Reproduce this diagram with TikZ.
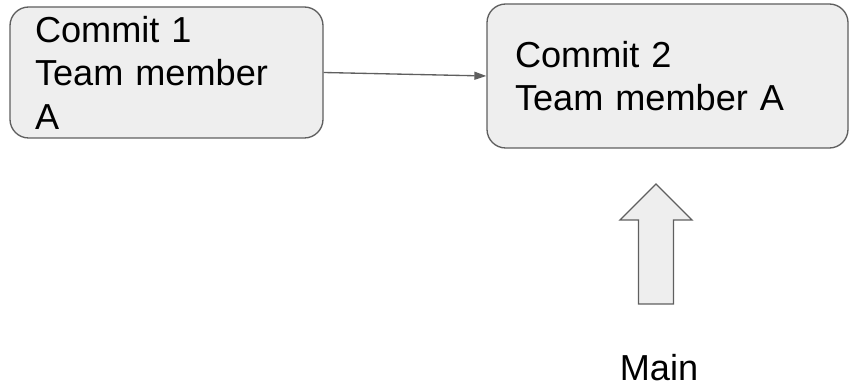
\documentclass[tikz,border=0pt]{standalone}
\usepackage{fontspec}
\setmainfont{Liberation Sans}
\usetikzlibrary{arrows.meta}
\definecolor{boxfill}{HTML}{EEEEEE}
\definecolor{boxline}{HTML}{5F5F5F}

\begin{document}
\begin{tikzpicture}[x=0.75pt,y=-0.75pt,
    commit/.style={draw=boxline,fill=boxfill,line width=1pt,rounded corners=14pt,
        align=left,inner xsep=0pt,inner ysep=0pt,
        font=\fontsize{27.1}{32.6}\selectfont},
    link/.style={draw=boxline,line width=1pt,-{Triangle[length=9pt,width=6pt]}}]
    \useasboundingbox (0,0) rectangle (849,391);
    \node[commit,minimum width=234.75pt,minimum height=98.25pt,text width=197.25pt] (c1) at (166.5,72.5) {Commit 1\\Team member\\A};
    \node[commit,minimum width=270.75pt,minimum height=108pt,text width=228.75pt] (c2) at (667.5,76) {Commit 2\\Team member A};
    \draw[link] (c1.east) -- (c2.west);
    \draw[boxline,fill=boxfill,line width=1pt] (656,184) -- (692,220) -- (673.5,220) -- (673.5,304)
        -- (638.5,304) -- (638.5,220) -- (620,220) -- cycle;
    \node[anchor=base,inner sep=0pt,font=\fontsize{27.1}{32.6}\selectfont] (main) at (659,380) {Main};
\end{tikzpicture}
\end{document}
